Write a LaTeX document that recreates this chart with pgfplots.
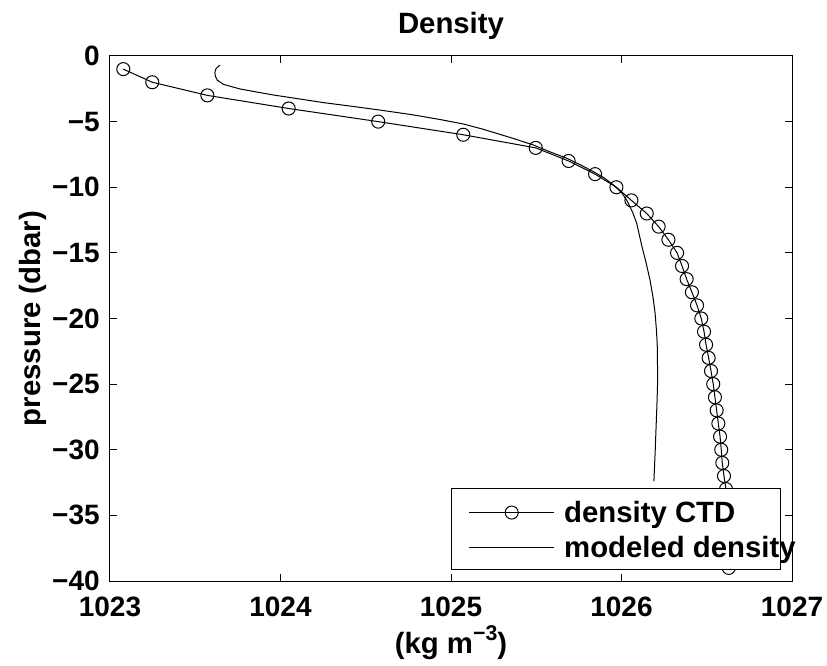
\documentclass[border=0pt]{standalone}
\usepackage{fontspec}
\setmainfont{Liberation Sans}
\usepackage{pgfplots}
\pgfplotsset{compat=1.18}
\newcommand{\bigf}{\fontsize{22}{26}\selectfont\bfseries}
\newcommand{\tickf}{\fontsize{21}{21}\selectfont\bfseries}
\pgfplotsset{
  ctdleg/.style={legend image code/.code={\path[draw=none,fill=none] (0pt,-4.95pt) rectangle (84.25pt,21.3pt);
    \draw[##1, mark repeat=2, mark phase=2] plot coordinates {(13pt,7.5pt) (44.9pt,7.5pt) (76.75pt,7.5pt)};}},
  modleg/.style={legend image code/.code={\path[draw=none,fill=none] (0pt,-4.95pt) rectangle (84.25pt,21.3pt);
    \draw[##1] (13pt,7.5pt) -- (76.75pt,7.5pt);}}
}
\begin{document}
\begin{tikzpicture}
\begin{axis}[
  at={(0pt,0pt)}, anchor=south west,
  scale only axis, width=511.5pt, height=393.75pt,
  xmin=1023, xmax=1027, ymin=-40, ymax=0,
  xtick={1023,1024,1025,1026,1027},
  xticklabels={1023,1024,1025,1026,1027},
  ytick={-40,-35,-30,-25,-20,-15,-10,-5,0},
  yticklabels={−40,−35,−30,−25,−20,−15,−10,−5,0},
  tick align=inside, major tick length=5.25pt,
  axis line style={line width=0.75pt},
  every tick/.style={line width=0.75pt, black},
  ticklabel style={font=\tickf, inner sep=0pt},
  xticklabel style={anchor=north, yshift=-12pt},
  yticklabel style={anchor=east, xshift=-7.5pt},
  title={Density},
  every axis title/.style={at={(axis description cs:0.5,1)}, anchor=base, yshift=17pt, font=\bigf},
  xlabel={(kg m\raisebox{9.75pt}{\fontsize{16}{16}\selectfont\bfseries −3})},
  every axis x label/.style={at={(axis description cs:0.5,0)}, anchor=base, yshift=-54pt, font=\bigf},
  ylabel={pressure (dbar)},
  every axis y label/.style={at={(axis description cs:-0.1129,0.5)}, rotate=90, anchor=center, font=\bigf},
  legend cell align=left,
  legend style={at={(rel axis cs:0.9834,0.021)}, anchor=south east, draw=black, line width=0.75pt, fill=white,
    inner xsep=0pt, inner ysep=4pt, row sep=0pt, column sep=0pt,
    nodes={inner sep=0pt, text height=21.3pt, text depth=4.95pt, font=\bigf},
    cells={anchor=base west}},
]
\addplot[black, line width=0.75pt, mark=o, mark size=4.9pt, mark options={line width=0.75pt, solid}, ctdleg]
coordinates {
(1023.078,-1) (1023.248,-2) (1023.571,-3) (1024.048,-4) (1024.573,-5)
(1025.072,-6) (1025.497,-7) (1025.690,-8) (1025.845,-9) (1025.970,-10)
(1026.058,-11) (1026.148,-12) (1026.218,-13) (1026.275,-14) (1026.326,-15)
(1026.355,-16) (1026.382,-17) (1026.413,-18) (1026.443,-19) (1026.468,-20)
(1026.484,-21) (1026.496,-22) (1026.511,-23) (1026.525,-24) (1026.538,-25)
(1026.548,-26) (1026.558,-27) (1026.568,-28) (1026.578,-29) (1026.585,-30)
(1026.591,-31) (1026.601,-32) (1026.613,-33) (1026.617,-34) (1026.620,-35)
(1026.622,-36) (1026.625,-37) (1026.627,-38) (1026.629,-39)
};
\addlegendentry{\makebox[162pt][l]{density CTD}}
\addplot[black, line width=0.75pt, modleg]
coordinates {
(1023.645,-0.69) (1023.622,-0.95) (1023.615,-1.25) (1023.618,-1.55) (1023.630,-1.85)
(1023.665,-2.16) (1023.762,-2.51) (1023.850,-2.72) (1023.958,-2.97) (1024.100,-3.25)
(1024.251,-3.55) (1024.430,-3.85) (1024.600,-4.15) (1024.780,-4.49) (1024.940,-4.85)
(1025.072,-5.18) (1025.180,-5.55) (1025.267,-5.89) (1025.370,-6.30) (1025.483,-6.78)
(1025.580,-7.30) (1025.679,-7.79) (1025.760,-8.30) (1025.835,-8.81) (1025.900,-9.30)
(1025.952,-9.82) (1026.000,-10.40) (1026.030,-10.97) (1026.065,-11.90) (1026.089,-12.74)
(1026.120,-14.52) (1026.145,-15.80) (1026.167,-17.06) (1026.185,-18.40) (1026.197,-19.60)
(1026.205,-20.90) (1026.210,-22.14) (1026.212,-24.68) (1026.208,-26.50) (1026.203,-28.20)
(1026.197,-30.30) (1026.190,-32.40)
};
\addlegendentry{\makebox[162pt][l]{modeled density}}
\end{axis}
\path[use as bounding box] (-82.5pt,-63pt) rectangle (537.75pt,435.75pt);
\end{tikzpicture}
\end{document}
